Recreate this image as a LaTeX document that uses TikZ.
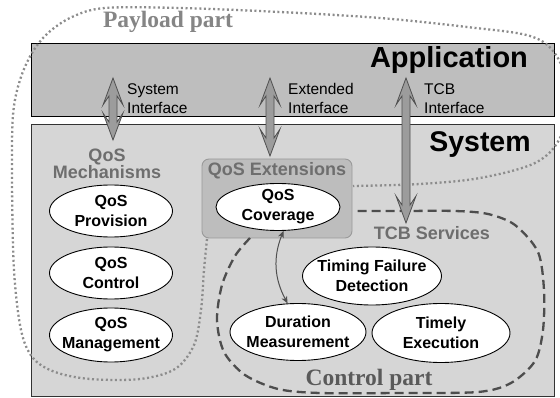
\documentclass[tikz,border=0pt]{standalone}
\usepackage{fontspec}
\setmainfont{Liberation Serif}
\setsansfont{Liberation Sans}
\usetikzlibrary{shapes.geometric,arrows.meta}
\definecolor{appfill}{HTML}{BEBEBE}
\definecolor{sysfill}{HTML}{D6D6D6}
\definecolor{extfill}{HTML}{BDBDBD}
\definecolor{extdraw}{HTML}{9A9A9A}
\definecolor{headgray}{HTML}{6E6E6E}
\definecolor{paygray}{HTML}{858585}
\definecolor{ctrlgray}{HTML}{5A5A5A}
\definecolor{dotgray}{HTML}{8C8C8C}
\definecolor{dashgray}{HTML}{4D4D4D}
\definecolor{arrfill}{HTML}{9C9C9C}
\definecolor{arrdraw}{HTML}{505050}
\tikzset{
  box/.style={rectangle, draw=#1, line width=0.9pt, inner sep=0pt},
  oval/.style={ellipse, draw=black, fill=white, line width=0.9pt, inner sep=0pt},
  lbl/.style={font=\fontsize{16}{20}\selectfont\sffamily\bfseries, align=center, text=black},
  head/.style={font=\fontsize{18}{16}\selectfont\sffamily\bfseries, text=headgray, align=center},
  title/.style={font=\fontsize{29}{32}\selectfont\sffamily\bfseries, text=black, anchor=base},
  iface/.style={font=\fontsize{15.5}{19}\selectfont\sffamily, text=black, align=left, anchor=west, inner sep=0pt},
  part/.style={font=\fontsize{23.5}{26}\selectfont\rmfamily\bfseries, anchor=base},
  bigarrow/.style={fill=arrfill, draw=arrdraw, line width=0.8pt, line join=miter},
  payload/.style={draw=dotgray, line width=2.3pt, dash pattern=on 2pt off 2.6pt},
  control/.style={draw=dashgray, line width=2.3pt, dash pattern=on 9pt off 5pt},
  smallarrow/.style={draw=arrdraw, line width=1pt, {Stealth[length=7pt,width=6pt,inset=2pt]}-{Stealth[length=7pt,width=6pt,inset=2pt]}}
}
\newcommand\dblarrow[3]{% x, y1 (top tip), y2 (bottom tip)
  \draw[bigarrow] (#1,#2) -- ++(10,27) -- ++(-6,-9) -- (#1+4,#3-18) -- ++(6,-9)
    -- (#1,#3) -- ++(-10,-27) -- ++(6,9) -- (#1-4,#2+18) -- ++(-6,9) -- cycle;}
\begin{document}
\begin{tikzpicture}[x=1pt,y=-1pt]
\useasboundingbox (0,0) rectangle (560,398);
\clip (0,0) rectangle (560,398);
\fill[white] (0,0) rectangle (560,398);

% boxes
\node[box=black, fill=appfill, minimum width=523, minimum height=73] (app) at (292.5,79.5) {};
\node[box=black!80, fill=sysfill, minimum width=523, minimum height=272] (sys) at (292.5,260) {};
\node[box=extdraw, fill=extfill, rounded corners=7pt, minimum width=150, minimum height=79] (ext) at (277,198.5) {};

% payload part (dotted)
\draw[payload] plot[smooth, tension=0.55] coordinates {
 (207,239) (204,270) (201,310) (194,345) (175,369) (140,379) (90,379) (55,372)
 (33,358) (21,330) (14,270) (12,180) (13,115) (20,80) (32,53) (48,33) (72,17)
 (105,8) (180,8) (280,12) (380,18) (467,27) (530,36) (556,55) (570,95)
 (560,138) (535,163) (480,178) (420,184) (353,186)};

% control part (dashed)
\draw[control] plot[smooth, tension=0.5] coordinates {
 (250,238) (235,256) (222,285) (217,320) (224,352) (245,375) (278,389) (320,393)
 (400,393) (478,392) (511,383) (535,361) (543,330) (544,290) (538,252) (515,225)
 (488,214) (455,211) (400,211) (353,211)};

% QoS mechanisms
\node[oval, minimum width=123, minimum height=52, label={[lbl]center:{QoS\\Provision}}] (prov) at (111,211) {};
\node[oval, minimum width=123, minimum height=52, label={[lbl]center:{QoS\\Control}}] (ctrl) at (111,273) {};
\node[oval, minimum width=123, minimum height=54, label={[lbl]center:{QoS\\Management}}] (mgmt) at (111,335) {};

% QoS extensions / TCB services
\node[oval, minimum width=124, minimum height=47, label={[lbl]center:{QoS\\Coverage}}] (cov) at (278,207) {};
\node[oval, minimum width=139, minimum height=58, label={[lbl]center:{Timing Failure\\Detection}}] (tfd) at (372,276) {};
\node[oval, minimum width=136, minimum height=57, label={[lbl]center:{Duration\\Measurement}}] (dur) at (298,332) {};
\node[oval, minimum width=138, minimum height=59, label={[lbl]center:{Timely\\Execution}}] (tex) at (441,333) {};

\draw[smallarrow] (cov.-77) to[bend right=25] (dur.110);

% interface arrows
\dblarrow{113}{78}{140}
\dblarrow{270}{78}{156}
\dblarrow{406}{78}{223}

% texts
\node[title] (apptxt) at (449,68) {Application};
\node[title, font=\fontsize{28.5}{32}\selectfont\sffamily\bfseries] (systxt) at (480,152) {System};
\node[iface] (sysif) at (127,98.5) {System\\Interface};
\node[iface] (extif) at (288,98.5) {Extended\\Interface};
\node[iface] (tcbif) at (424,98.5) {TCB\\Interface};
\node[head] (mechtxt) at (107,164) {QoS\\Mechanisms};
\node[head, anchor=base] (exttxt) at (277,176) {QoS Extensions};
\node[head, anchor=base] (tcbtxt) at (432,240) {TCB Services};
\node[part, text=paygray] (paytxt) at (168,28) {Payload part};
\node[part, text=ctrlgray] (ctrltxt) at (369,385) {Control part};
\end{tikzpicture}
\end{document}
